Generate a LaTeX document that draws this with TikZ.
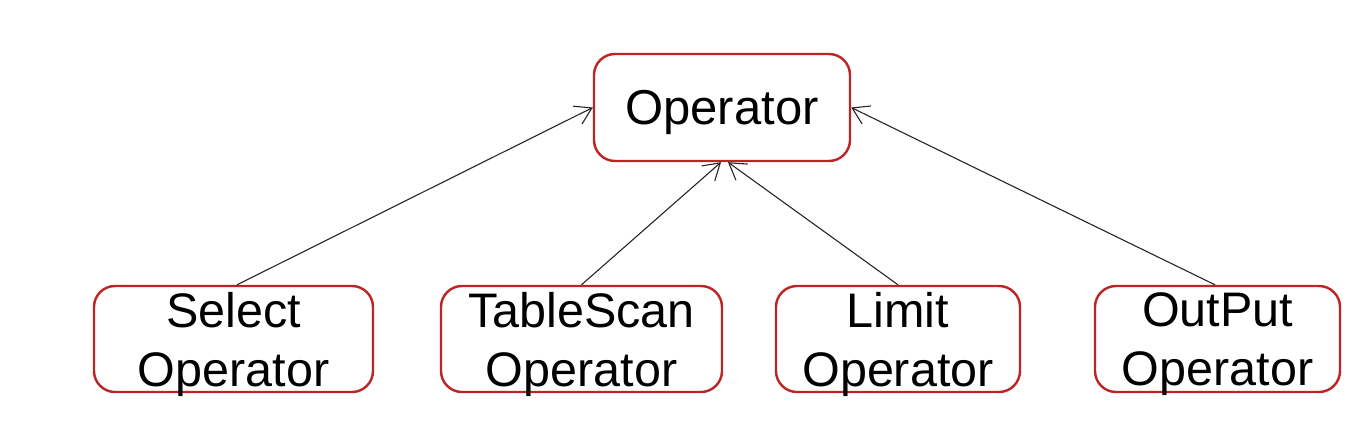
\documentclass[tikz,border=0pt]{standalone}
\usepackage{fontspec}
\setmainfont{Liberation Sans}
\usetikzlibrary{arrows.meta}
\definecolor{boxred}{RGB}{190,36,36}
\tikzset{
  opbox/.style={draw=boxred, line width=2.4pt, rounded corners=21pt, fill=white,
    inner sep=0pt, align=center, text depth=0pt},
  topfont/.style={font=\fontsize{49}{58}\selectfont},
  botfont/.style={font=\fontsize{48.5}{59}\selectfont},
  inh/.style={draw=black!85, line width=1.1pt, -{Straight Barb[length=16pt,width=20pt,line width=1.1pt]}}
}
\begin{document}
\begin{tikzpicture}[x=1pt,y=-1pt]
\useasboundingbox (0,0) rectangle (1361,440);
\node[opbox, topfont, minimum width=256pt, minimum height=107pt] (op) at (722,107.5) {Operator};
\node[opbox, botfont, minimum width=279pt, minimum height=106pt] (sel) at (233.5,339) {Select\\Operator};
\node[opbox, botfont, minimum width=281pt, minimum height=106pt] (tab) at (581.5,339) {TableScan\\Operator};
\node[opbox, botfont, minimum width=244pt, minimum height=106pt] (lim) at (898,339) {Limit\\Operator};
\node[opbox, botfont, minimum width=245pt, minimum height=106pt] (out) at (1217.5,339) {OutPut\\Operator};
\draw[inh] ([xshift=3.5pt]sel.north) -- (op.west);
\draw[inh] (tab.north) -- ([xshift=-1pt]op.south);
\draw[inh] (lim.north) -- ([xshift=6pt]op.south);
\draw[inh] ([xshift=-2.5pt]out.north) -- (op.east);
\end{tikzpicture}
\end{document}
